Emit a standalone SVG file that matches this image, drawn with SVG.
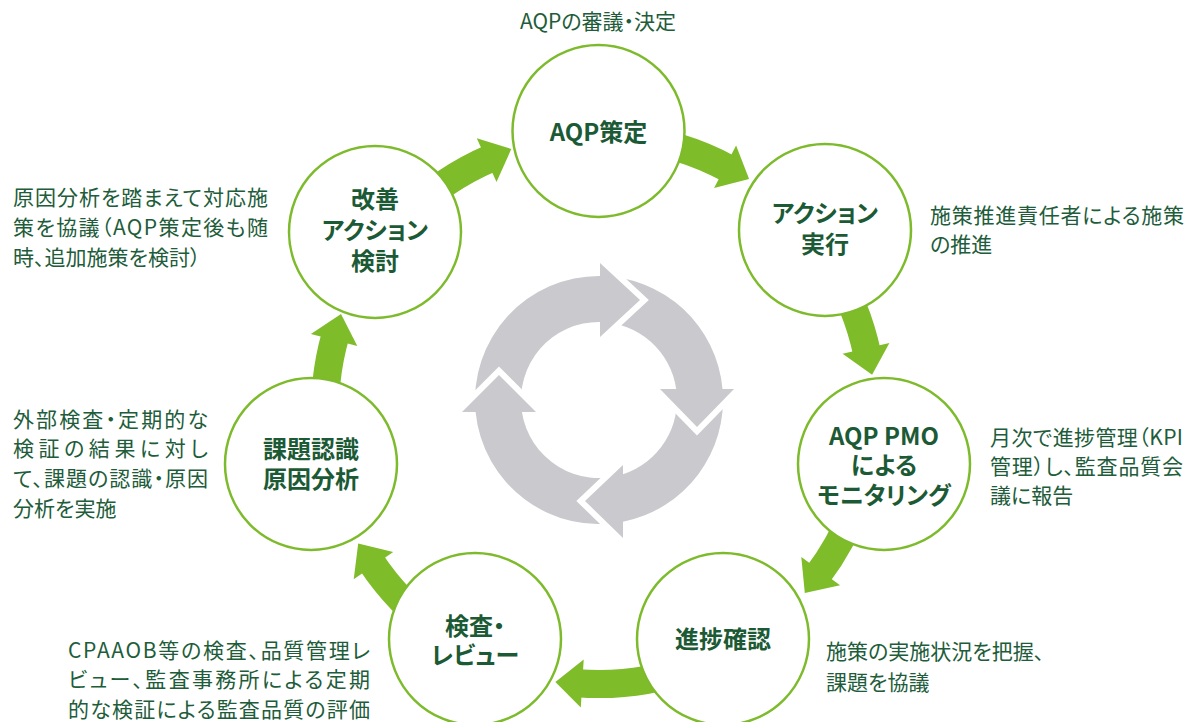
<svg xmlns="http://www.w3.org/2000/svg" width="1189" height="722" viewBox="0 0 1189 722">
<style>
.lbl{font-family:"Noto Sans CJK JP","Noto Sans",sans-serif;font-size:24px;font-weight:700;fill:#1c5a36;text-anchor:middle;font-feature-settings:"palt"}
.dsc{font-family:"Noto Sans CJK JP","Noto Sans",sans-serif;font-size:21px;fill:#215c3a;font-feature-settings:"palt"}
.node circle{fill:#fff;stroke:#7dbb2c;stroke-width:2.5}
.gb{fill:none;stroke:#7fbc2a;stroke-width:28}
.gh{fill:#7fbc2a}
.gray{fill:#c9c9ce}
</style>
<defs>
<mask id="mTop" maskUnits="userSpaceOnUse" x="0" y="0" width="1189" height="722">
<rect width="1189" height="722" fill="#fff"/>
<polygon points="462,412 499,375 536,412" fill="#000" stroke="#000" stroke-width="12"/>
</mask>
<mask id="mRight" maskUnits="userSpaceOnUse" x="0" y="0" width="1189" height="722">
<rect width="1189" height="722" fill="#fff"/>
<polygon points="600,263 640,300 600,337" fill="#000" stroke="#000" stroke-width="12"/>
</mask>
<mask id="mBottom" maskUnits="userSpaceOnUse" x="0" y="0" width="1189" height="722">
<rect width="1189" height="722" fill="#fff"/>
<polygon points="734,389 697,427 660,389" fill="#000" stroke="#000" stroke-width="12"/>
</mask>
<mask id="mLeft" maskUnits="userSpaceOnUse" x="0" y="0" width="1189" height="722">
<rect width="1189" height="722" fill="#fff"/>
<polygon points="623,538 585,501 623,465" fill="#000" stroke="#000" stroke-width="12"/>
</mask>
</defs>

<g id="center-cycle">
<path class="gray" mask="url(#mTop)" d="M521.9 412 L475.6 412 A124 124 0 0 1 600 276 L600 263 L640 300 L600 337 L600 322 A78 78 0 0 0 521.9 412 Z"/>
<path class="gray" mask="url(#mRight)" d="M600 322 L600 276 A124 124 0 0 1 722.5 389 L734 389 L697 427 L660 389 L676.2 389 A78 78 0 0 0 600 322 Z"/>
<path class="gray" mask="url(#mBottom)" d="M676.2 389 L722.5 389 A124 124 0 0 1 623 521.7 L623 538 L585 501 L623 465 L623 474.2 A78 78 0 0 0 676.2 389 Z"/>
<path class="gray" mask="url(#mLeft)" d="M623 474.2 L623 521.7 A124 124 0 0 1 475.6 412 L462 412 L499 375 L536 412 L521.9 412 A78 78 0 0 0 623 474.2 Z"/>
</g>

<g id="connectors">
<path class="gb" d="M405.3 216.3 A274 274 0 0 1 491.1 158.2"/>
<polygon class="gh" points="476.8,138.2 511.3,149 496.5,182"/>
<path class="gb" d="M622.9 137 A274 274 0 0 1 729.3 169"/>
<polygon class="gh" points="736.1,145.4 749.1,179.1 714.1,188"/>
<path class="gb" d="M831.4 264.8 A274 274 0 0 1 867 353"/>
<polygon class="gh" points="889.4,343 872.1,374.7 842.6,353.8"/>
<path class="gb" d="M859.6 494.7 A274 274 0 0 1 817.8 574.9"/>
<polygon class="gh" points="840.1,585.2 804.8,592.9 801.3,556.9"/>
<path class="gb" d="M692.7 667.5 A274 274 0 0 1 577.5 683.2"/>
<polygon class="gh" points="580.8,707.4 555.4,681.9 583.7,659.5"/>
<path class="gb" d="M437.9 631.7 A274 274 0 0 1 370.8 561.6"/>
<polygon class="gh" points="353.7,579.2 358.2,543.4 393.2,552"/>
<path class="gb" d="M325.7 429.1 A274 274 0 0 1 335.4 335.4"/>
<polygon class="gh" points="310.9,333.9 341,313.9 357.3,346.1"/>
</g>

<g id="node-aqp" class="node">
<circle cx="598.5" cy="131" r="86"/>
<text class="lbl" x="598.5" y="141">AQP策定</text>
</g>
<g id="node-action" class="node">
<circle cx="825" cy="230" r="86"/>
<text class="lbl" x="825" y="222">アクション</text>
<text class="lbl" x="825" y="253">実行</text>
</g>
<g id="node-pmo" class="node">
<circle cx="884" cy="464" r="86"/>
<text class="lbl" x="884" y="445">AQP PMO</text>
<text class="lbl" x="884" y="474">による</text>
<text class="lbl" x="884" y="504">モニタリング</text>
</g>
<g id="node-progress" class="node">
<circle cx="723" cy="639" r="86"/>
<text class="lbl" x="723" y="648">進捗確認</text>
</g>
<g id="node-review" class="node">
<circle cx="475" cy="639" r="86"/>
<text class="lbl" x="475" y="635">検査・</text>
<text class="lbl" x="475" y="664">レビュー</text>
</g>
<g id="node-issue" class="node">
<circle cx="311" cy="464" r="86"/>
<text class="lbl" x="311" y="458">課題認識</text>
<text class="lbl" x="311" y="488">原因分析</text>
</g>
<g id="node-improve" class="node">
<circle cx="375" cy="232" r="86"/>
<text class="lbl" x="375" y="208">改善</text>
<text class="lbl" x="375" y="239">アクション</text>
<text class="lbl" x="375" y="270">検討</text>
</g>

<g id="descriptions">
<text class="dsc" x="598" y="29" text-anchor="middle">AQPの審議・決定</text>
<text class="dsc" x="13" y="205" textLength="255" lengthAdjust="spacing">原因分析を踏まえて対応施</text>
<text class="dsc" x="13" y="235" textLength="255" lengthAdjust="spacing">策を協議（AQP策定後も随</text>
<text class="dsc" x="13" y="265">時、追加施策を検討）</text>
<text class="dsc" x="930" y="223" textLength="254" lengthAdjust="spacing">施策推進責任者による施策</text>
<text class="dsc" x="930" y="252">の推進</text>
<text class="dsc" x="990" y="445" textLength="193" lengthAdjust="spacing">月次で進捗管理（KPI</text>
<text class="dsc" x="990" y="474" textLength="193" lengthAdjust="spacing">管理）し、監査品質会</text>
<text class="dsc" x="990" y="503">議に報告</text>
<text class="dsc" x="13" y="427" textLength="195" lengthAdjust="spacing">外部検査・定期的な</text>
<text class="dsc" x="13" y="456" textLength="195" lengthAdjust="spacing">検証の結果に対し</text>
<text class="dsc" x="13" y="486" textLength="195" lengthAdjust="spacing">て、課題の認識・原因</text>
<text class="dsc" x="13" y="516">分析を実施</text>
<text class="dsc" x="826" y="659">施策の実施状況を把握、</text>
<text class="dsc" x="826" y="690">課題を協議</text>
<text class="dsc" x="68" y="658" textLength="302" lengthAdjust="spacing">CPAAOB等の検査、品質管理レ</text>
<text class="dsc" x="68" y="687" textLength="302" lengthAdjust="spacing">ビュー、監査事務所による定期</text>
<text class="dsc" x="68" y="717" textLength="302" lengthAdjust="spacing">的な検証による監査品質の評価</text>
</g>
</svg>
